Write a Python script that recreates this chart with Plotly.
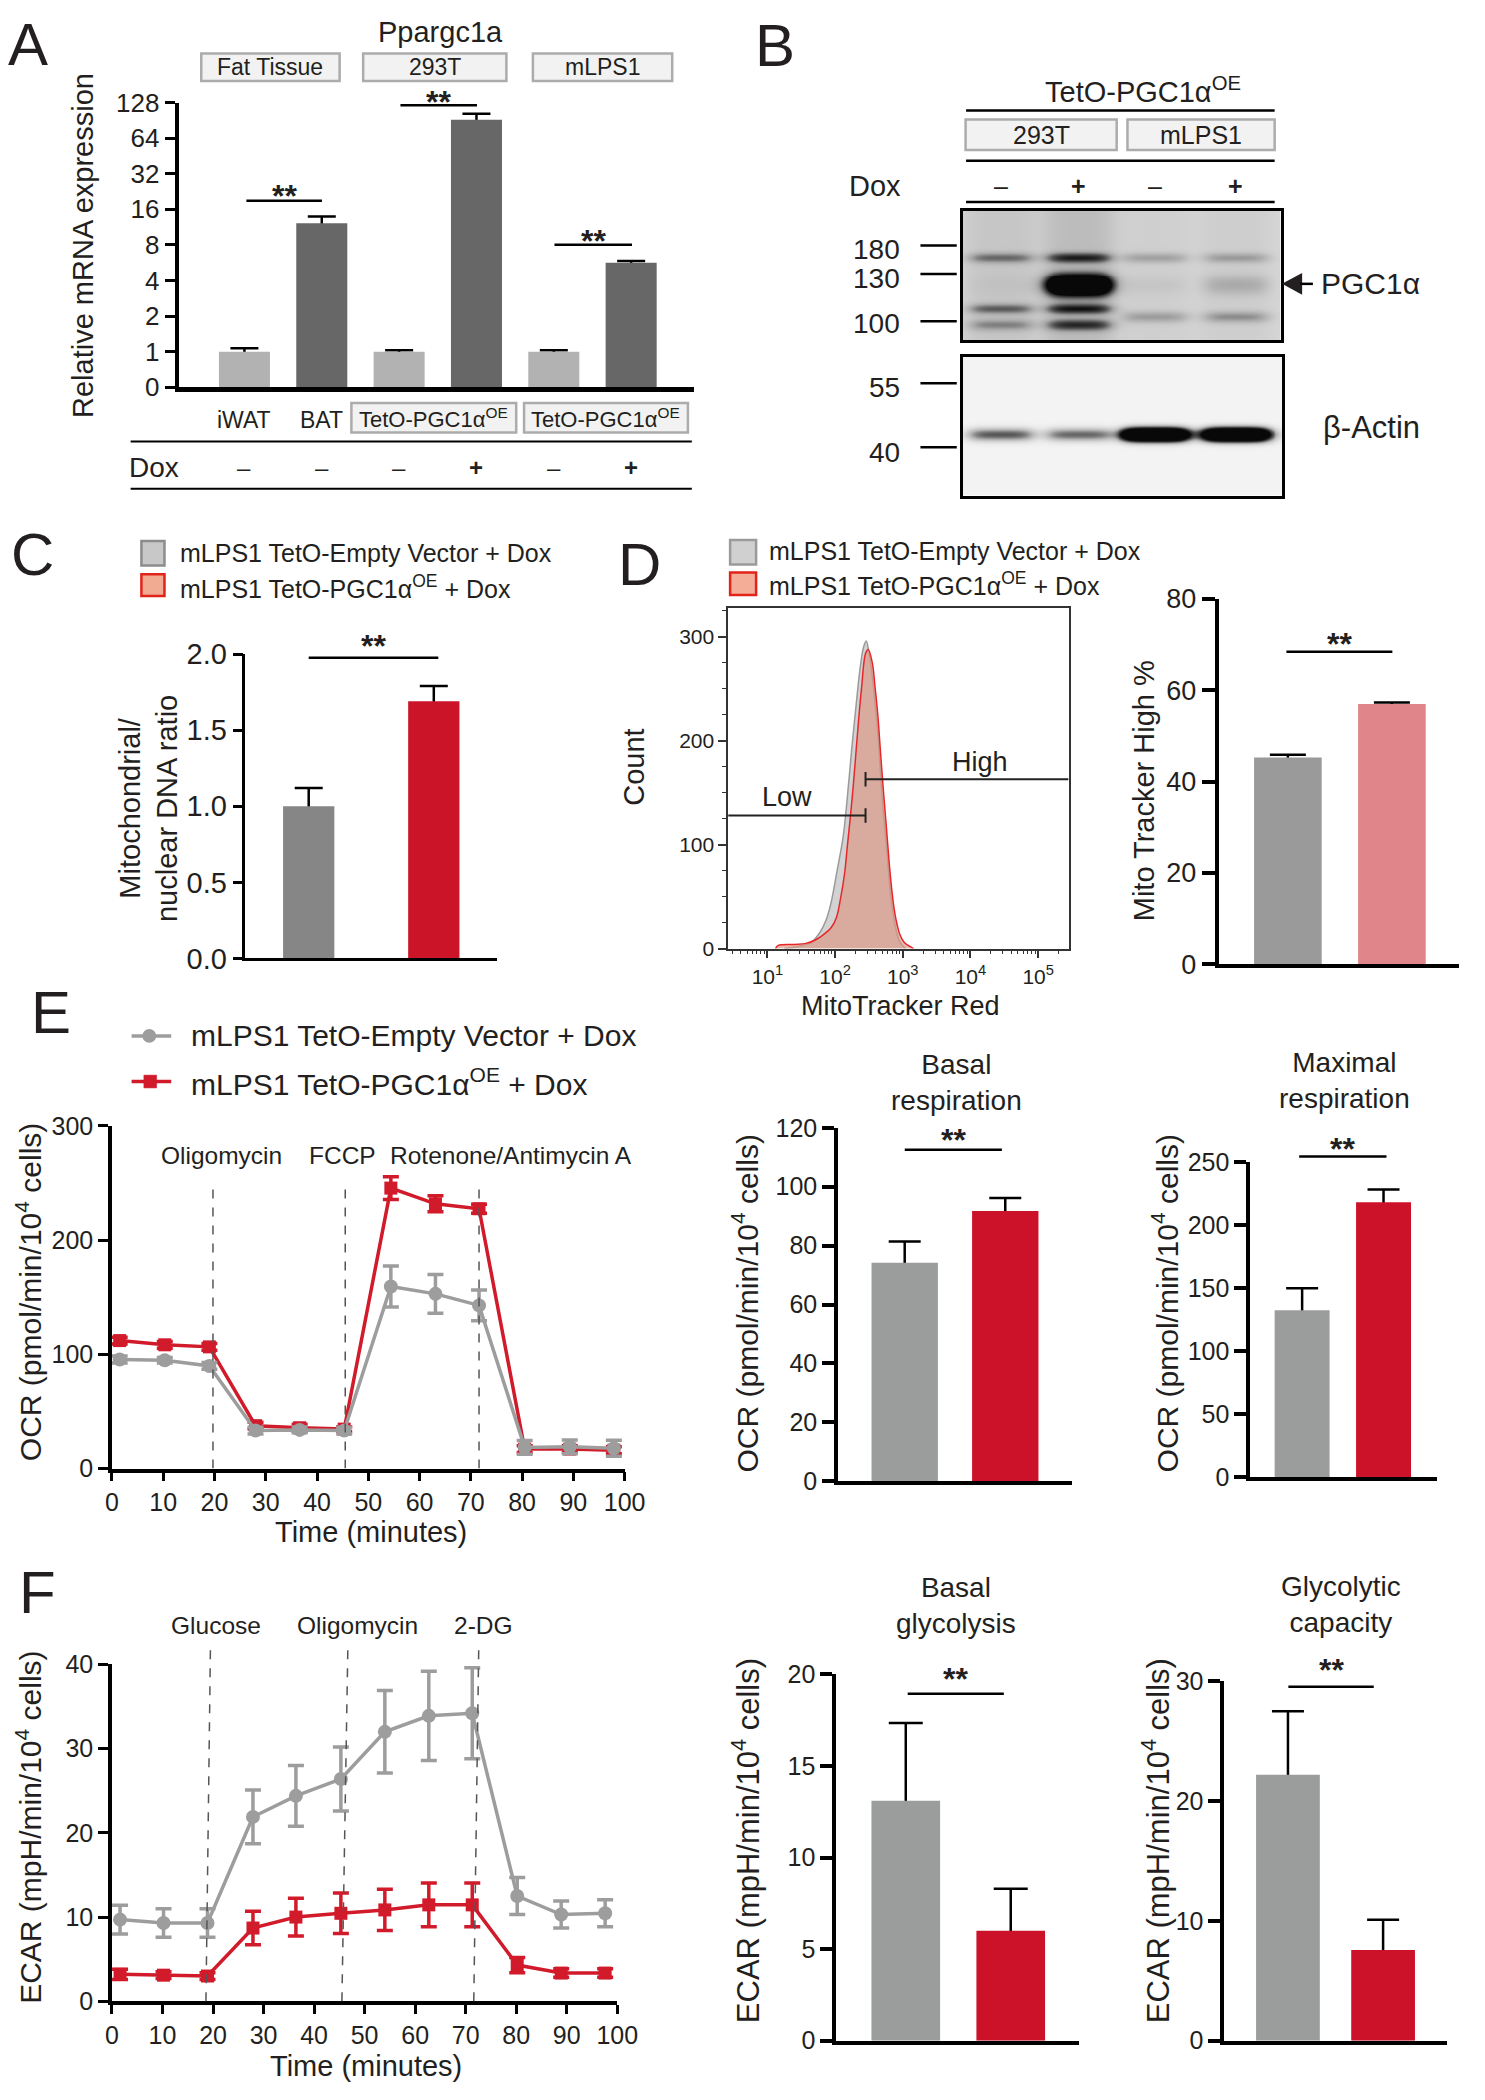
import numpy as np
import plotly.graph_objects as go

W, H = 1485, 2100
FONT = "Arial, Liberation Sans, Helvetica, sans-serif"
NARROW = "Liberation Sans Narrow, Arial Narrow, Arial, Liberation Sans, sans-serif"
INK = "#231f20"

# ============================ DATA ============================
# Panel A - Ppargc1a relative mRNA expression
a_categories = ["iWAT", "BAT", "293T -Dox", "293T +Dox", "mLPS1 -Dox", "mLPS1 +Dox"]
a_mrna = [1.0, 12.2, 1.0, 91.7, 1.0, 5.66]
a_mrna_err_top = [1.07, 13.9, 1.03, 103.0, 1.03, 5.85]
a_tickvals = [0.5, 1, 2, 4, 8, 16, 32, 64, 128]
a_ticktext = ["0", "1", "2", "4", "8", "16", "32", "64", "128"]
a_dox = ["–", "–", "–", "+", "–", "+"]
a_groups = ["Fat Tissue", "293T", "mLPS1"]

# Panel B - western blot (band intensities per lane)
b_cells = ["293T", "mLPS1"]
b_dox = ["–", "+", "–", "+"]
b_markers_top = ["180", "130", "100"]
b_markers_bottom = ["55", "40"]
b_band_180 = [0.45, 0.75, 0.28, 0.30]
b_band_pgc1a = [0.03, 2.5, 0.06, 0.22]
b_band_110 = [0.50, 0.80, 0.0, 0.0]
b_band_100 = [0.35, 0.70, 0.0, 0.0]
b_band_105 = [0.0, 0.0, 0.30, 0.35]
b_lane_smear = [0.10, 0.16, 0.04, 0.05]
b_band_actin = [0.60, 0.55, 3.0, 3.0]

# Legend groups
groups = ["mLPS1 TetO-Empty Vector + Dox", "mLPS1 TetO-PGC1α<sup>OE</sup> + Dox"]

# Panel C - mito/nuclear DNA ratio
c_mtdna = [1.0, 1.69]
c_mtdna_sem = [0.12, 0.10]

# Panel D - MitoTracker histogram (log10 intensity, count)
d_log_empty = [1.25, 1.45, 1.65, 1.78, 1.87, 1.94, 2.03, 2.12, 2.18, 2.25, 2.31, 2.37, 2.42,
               2.46, 2.50, 2.55, 2.60, 2.63, 2.67, 2.71, 2.76, 2.80, 2.84, 2.88, 2.92, 2.96, 3.04]
d_count_empty = [0, 2, 6, 16, 28, 44, 75, 108, 145, 195, 234, 270, 290,
                 296, 285, 262, 230, 209, 170, 133, 98, 66, 42, 25, 13, 6, 0]
d_log_pgc = [1.12, 1.16, 1.40, 1.57, 1.70, 1.82, 1.94, 2.02, 2.08, 2.14, 2.18, 2.22, 2.27, 2.31,
             2.35, 2.39, 2.45, 2.49, 2.55, 2.59, 2.63, 2.67, 2.71, 2.76, 2.80, 2.84, 2.88, 2.92,
             2.96, 3.02, 3.08, 3.16]
d_count_pgc = [0, 3, 4, 5, 8, 13, 20, 30, 48, 72, 98, 123, 158, 190,
               222, 250, 284, 288, 275, 252, 226, 190, 155, 115, 82, 55, 35, 22,
               13, 6, 3, 0]
d_gate_log = 2.45
d_high_pct = [45.3, 57.0]
d_high_pct_sem = [0.6, 0.35]

# Panel E - OCR
e_time = [1.5, 10.3, 19.0, 28.0, 36.6, 45.3, 54.4, 63.1, 71.6, 80.5, 89.3, 97.9]
e_ocr_empty = [95.4, 94.8, 89.8, 33.2, 33.8, 33.2, 159.4, 152.9, 142.8, 18.5, 19.0, 17.8]
e_ocr_empty_sem = [3, 2.5, 3, 3, 2.5, 3, 18, 17, 13.5, 6, 6, 7]
e_ocr_pgc = [112.0, 108.3, 106.5, 37.5, 35.7, 34.5, 245.5, 231.7, 227.4, 17.0, 17.0, 16.0]
e_ocr_pgc_sem = [3, 3, 3, 3, 3, 2, 10, 7, 4, 3, 3, 3]
e_injections = ["Oligomycin", "FCCP", "Rotenone/Antimycin A"]
e_injection_time = [19.7, 45.5, 71.6]
e_basal_resp = [74.2, 91.8]
e_basal_resp_sem = [7.2, 4.4]
e_max_resp = [132.4, 218.0]
e_max_resp_sem = [17.5, 10.0]

# Panel F - ECAR
f_time = [1.6, 10.2, 18.9, 27.9, 36.4, 45.3, 54.0, 62.7, 71.3, 80.2, 88.9, 97.6]
f_ecar_empty = [9.7, 9.3, 9.3, 21.9, 24.4, 26.4, 32.0, 33.9, 34.2, 12.5, 10.3, 10.45]
f_ecar_empty_sem = [1.7, 1.7, 1.7, 3.2, 3.6, 3.8, 4.9, 5.3, 5.4, 2.2, 1.6, 1.6]
f_ecar_pgc = [3.2, 3.1, 3.0, 8.7, 10.0, 10.45, 10.85, 11.45, 11.45, 4.3, 3.35, 3.35]
f_ecar_pgc_sem = [0.6, 0.4, 0.4, 2.0, 2.25, 2.4, 2.45, 2.6, 2.6, 0.9, 0.5, 0.5]
f_injections = ["Glucose", "Oligomycin", "2-DG"]
f_injection_time_bottom = [18.6, 45.5, 71.6]
f_injection_time_top = [19.5, 46.7, 72.6]
f_basal_glyc = [13.1, 6.0]
f_basal_glyc_sem = [4.25, 2.3]
f_glyc_cap = [22.2, 7.56]
f_glyc_cap_sem = [5.3, 2.54]

# ============================ STYLE ============================
GRAY_LINE = "#9d9d9d"
RED_LINE = "#d11a2a"
GRAY_BAR = "#9b9d9c"
RED_BAR = "#cc1229"

fig = go.Figure()
axes_layout = {}
annotations = []
shapes = []


def axes(n, x0, x1, y0, y1, xkw, ykw):
    s = "" if n == 1 else str(n)
    axes_layout["xaxis" + s] = dict(domain=[x0 / W, x1 / W], anchor="y" + s, **xkw)
    axes_layout["yaxis" + s] = dict(domain=[1 - y1 / H, 1 - y0 / H], anchor="x" + s, **ykw)
    return "x" + s, "y" + s


def text(s, x, y, size, anchor="center", angle=0, family=FONT, color=INK, xref=None):
    annotations.append(dict(
        text=s, x=(x / W if xref is None else x), y=1 - y / H,
        xref="paper" if xref is None else xref, yref="paper",
        xanchor=anchor, yanchor="middle", showarrow=False, textangle=angle,
        font=dict(family=family, size=size, color=color)))


def hline(x0, x1, y, width=2.5, color="black", dash=None):
    shapes.append(dict(type="line", xref="paper", yref="paper", x0=x0 / W, x1=x1 / W,
                       y0=1 - y / H, y1=1 - y / H, line=dict(color=color, width=width, dash=dash)))


def rect(x0, y0, x1, y1, fill, line, lw=2):
    shapes.append(dict(type="rect", xref="paper", yref="paper", x0=x0 / W, x1=x1 / W,
                       y0=1 - y1 / H, y1=1 - y0 / H, fillcolor=fill, line=dict(color=line, width=lw)))


def xbar(rng, lw=3):
    return dict(range=rng, showline=True, linewidth=lw, linecolor="black", ticks="",
                showticklabels=False, showgrid=False, zeroline=False)


def ybar(rng, tickvals, size, lw=3, ticklen=12, fmt=None):
    d = dict(range=rng, tickvals=tickvals, showline=True, linewidth=lw, linecolor="black",
             ticks="outside", ticklen=ticklen, tickwidth=lw, tickcolor="black",
             showgrid=False, zeroline=False, tickfont=dict(family=NARROW, size=size, color=INK))
    if fmt:
        d["tickformat"] = fmt
    return d


def bars(xa, ya, values, sem, colors, width, capw, thick=2.5):
    xs = list(range(len(values)))
    fig.add_trace(go.Bar(x=xs, y=values, width=width, xaxis=xa, yaxis=ya,
                         marker=dict(color="rgba(0,0,0,0)", line=dict(width=0)),
                         error_y=dict(type="data", symmetric=False, array=sem,
                                      arrayminus=[v * 0.3 for v in values],
                                      color="black", thickness=thick, width=capw),
                         hoverinfo="skip"))
    fig.add_trace(go.Bar(x=xs, y=values, width=width, xaxis=xa, yaxis=ya,
                         marker=dict(color=colors, line=dict(width=0))))


def stars(x0, x1, yline, ystar):
    hline(x0, x1, yline, width=2.5)
    text("<b>**</b>", (x0 + x1) / 2, ystar + 8, 32)


# ============================ PANEL A ============================
xa, ya = axes(1, 175, 700, 88, 377,
              dict(range=[-0.85, 5.81], showline=True, linewidth=5, linecolor="black", ticks="",
                   showticklabels=False, showgrid=False, zeroline=False),
              dict(type="log", range=[np.log10(0.5), np.log10(128)], tickvals=a_tickvals,
                   ticktext=a_ticktext, showline=True, linewidth=4, linecolor="black",
                   ticks="outside", ticklen=10, tickwidth=3, tickcolor="black",
                   showgrid=False, zeroline=False,
                   tickfont=dict(family=NARROW, size=26, color=INK)))
a_colors = ["#b2b2b2" if d == "–" else "#676767" for d in a_dox]
a_colors[1] = "#676767"
a_err = [t - v for t, v in zip(a_mrna_err_top, a_mrna)]
bars(xa, ya, a_mrna, a_err, a_colors, 0.66, 14)

text("Ppargc1a", 442, 16, 29)
for name, (x0, x1) in zip(a_groups, [(198, 339), (363, 509), (536, 678)]):
    rect(x0, 38, x1, 66, "#f2f2f2", "#acacac", 2.5)
    text(name, (x0 + x1) / 2, 52, 23)
stars(244, 321, 187.7, 175)
stars(401, 479, 90.7, 79.3)
stars(558, 637, 232.3, 220)
text("iWAT", 0, 410, 23, xref="x")
text("BAT", 1, 410, 23, xref="x")
for x0, x1 in [(351, 519), (527, 694)]:
    rect(x0, 393, x1, 423, "#f2f2f2", "#acacac", 2.5)
    text("TetO-PGC1α<sup>OE</sup>", (x0 + x1) / 2, 408, 22)
hline(126, 698, 432, 2)
hline(126, 698, 480, 2)
text("Dox", 150, 458, 28)
for i, s in enumerate(a_dox):
    text("<b>" + s + "</b>" if s == "+" else s, i, 458, 24, xref="x")
text("Relative mRNA expression", 78, 233, 29, angle=-90)

# ============================ PANEL B ============================
b_lane_x = [39, 118, 196, 278]


def blot(width, height, rows, lane_x, halfw=30.0, soft=5.0, smear=None):
    X, Y = np.meshgrid(np.arange(width) + 0.5, np.arange(height) + 0.5)
    z = np.zeros((height, width))
    for yc, sig, intens in rows:
        for xc, a in zip(lane_x, intens):
            if a <= 0:
                continue
            xprof = 1.0 / (1.0 + np.exp((np.abs(X - xc) - halfw) / soft))
            yprof = np.exp(-((Y - yc) / sig) ** 2)
            z += a * xprof * yprof
    if smear is not None:
        for xc, a in zip(lane_x, smear):
            z += a / (1.0 + np.exp((np.abs(X - xc) - halfw - 4) / 6.0))
    return np.clip(z, 0, 1)


top_rows = [(47, 5.0, b_band_180), (75, 10.0, b_band_pgc1a), (99, 5.0, b_band_110),
            (115, 5.5, b_band_100), (107, 5.5, b_band_105)]
bot_rows = [(79, 6.0, b_band_actin)]
z_top = blot(324, 131, top_rows, b_lane_x, smear=b_lane_smear)
z_bot = blot(326, 141, bot_rows, b_lane_x, halfw=31)

blot_ax = dict(showline=True, mirror=True, linewidth=2.5, linecolor="black", ticks="",
               showticklabels=False, showgrid=False, zeroline=False)
xb1, yb1 = axes(2, 974, 1298, 198, 329, dict(range=[0, 324], **blot_ax), dict(range=[131, 0], **blot_ax))
xb2, yb2 = axes(3, 974, 1300, 346, 487, dict(range=[0, 326], **blot_ax), dict(range=[141, 0], **blot_ax))
fig.add_trace(go.Heatmap(z=z_top, x=np.arange(324) + 0.5, y=np.arange(131) + 0.5, zmin=0, zmax=1,
                         colorscale=[[0, "#d6d6d6"], [0.3, "#a5a5a5"], [0.6, "#585858"], [1, "#080808"]],
                         showscale=False, xaxis=xb1, yaxis=yb1, zsmooth="best"))
fig.add_trace(go.Heatmap(z=z_bot, x=np.arange(326) + 0.5, y=np.arange(141) + 0.5, zmin=0, zmax=1,
                         colorscale=[[0, "#f3f3f3"], [0.3, "#b5b5b5"], [0.6, "#555555"], [1, "#080808"]],
                         showscale=False, xaxis=xb2, yaxis=yb2, zsmooth="best"))

text("TetO-PGC1α<sup>OE</sup>", 1158, 75, 29)
hline(977.5, 1292, 96, 2.5)
for name, (x0, x1) in zip(b_cells, [(977, 1131), (1142, 1292)]):
    rect(x0, 105, x1, 136, "#f2f2f2", "#acacac", 2.5)
    text(name, (x0 + x1) / 2, 120.5, 25)
hline(977.5, 1292, 147, 2.5)
text("Dox", 885, 173, 29)
for xc, s in zip(b_lane_x, b_dox):
    text("<b>" + s + "</b>" if s == "+" else s, 974 + xc, 173, 25)
hline(977.5, 1292, 189, 2.5)
for lab, ly, ty in zip(b_markers_top, [233, 262, 310], [237, 267, 312]):
    hline(931, 968, ly, 2.5)
    text(lab, 912, ty, 28, anchor="right")
for lab, ly, ty in zip(b_markers_bottom, [373, 438], [377, 443]):
    hline(931, 968, ly, 2.5)
    text(lab, 912, ty, 28, anchor="right")
shapes.append(dict(type="path", xref="paper", yref="paper",
                   path="M {} {} L {} {} L {} {} Z".format(1299.5 / W, 1 - 272 / H, 1320 / W, 1 - 261 / H,
                                                           1320 / W, 1 - 283 / H),
                   fillcolor="#231f20", line=dict(width=0)))
hline(1318, 1331, 272, 2.5)
text("PGC1α", 1337.5, 272, 30, anchor="left")
text("β-Actin", 1339.5, 418, 31, anchor="left")

# ============================ PANEL C ============================
xc_, yc_ = axes(4, 243, 499, 648, 957, xbar([-0.506, 1.502], 3),
                ybar([0, 2.0], [0, 0.5, 1.0, 1.5, 2.0], 29, lw=2.5, ticklen=10, fmt=".1f"))
bars(xc_, yc_, c_mtdna, c_mtdna_sem, ["#868686", "#cb1428"], 0.41, 14)
rect(137, 533, 160.5, 558, "#c8c8c8", "#8c8c8c", 2.5)
rect(137, 567, 160.5, 589, "#f2ab93", "#e2231a", 2.5)
text(groups[0], 174, 545, 25, anchor="left")
text(groups[1], 174, 580, 25, anchor="left")
text("Mitochondrial/<br>nuclear DNA ratio", 144, 805, 29, angle=-90)
stars(307.5, 439.6, 651.7, 631.7)

# ============================ PANEL D ============================
hist_ax = dict(showline=True, mirror=True, linewidth=1.5, linecolor="#333333", showgrid=False,
               zeroline=False, ticks="outside", tickcolor="#333333", tickwidth=1.5, ticklen=8,
               tickfont=dict(family=NARROW, size=21, color=INK))
minor_x = [k * 10 ** n for n in range(0, 6) for k in range(2, 10)]
xd, yd = axes(5, 735, 1082, 601, 947,
              dict(type="log", range=[0.42, 5.45], tickvals=[10, 100, 1e3, 1e4, 1e5],
                   ticktext=["10<sup>1</sup>", "10<sup>2</sup>", "10<sup>3</sup>", "10<sup>4</sup>",
                             "10<sup>5</sup>"],
                   minor=dict(tickvals=minor_x, ticks="outside", ticklen=4, tickwidth=1.2,
                              tickcolor="#333333"), **hist_ax),
              dict(range=[0, 328], tickvals=[0, 100, 200, 300],
                   minor=dict(tickvals=[25, 50, 75, 125, 150, 175, 225, 250, 275, 325], ticks="outside",
                              ticklen=4, tickwidth=1.2, tickcolor="#333333"), **hist_ax))
fig.add_trace(go.Scatter(x=10 ** np.array(d_log_empty), y=d_count_empty, mode="lines",
                         line=dict(color="#9a9a9a", width=1.5, shape="spline"), fill="tozeroy",
                         fillcolor="#d2d2d2", xaxis=xd, yaxis=yd))
fig.add_trace(go.Scatter(x=10 ** np.array(d_log_pgc), y=d_count_pgc, mode="lines",
                         line=dict(color="#e8262a", width=1.5, shape="spline"), fill="tozeroy",
                         fillcolor="rgba(220,150,130,0.65)", xaxis=xd, yaxis=yd))
g = 10 ** d_gate_log
fig.add_trace(go.Scatter(x=[10 ** 0.42, g, None, g, g], y=[128, 128, None, 121, 135], mode="lines",
                         line=dict(color="#222222", width=2), xaxis=xd, yaxis=yd, cliponaxis=False))
fig.add_trace(go.Scatter(x=[g, 10 ** 5.45, None, g, g], y=[163, 163, None, 156, 170], mode="lines",
                         line=dict(color="#222222", width=2), xaxis=xd, yaxis=yd, cliponaxis=False))
text("Low", 795, 793, 27)
text("High", 992, 758, 27)
text("Count", 639.5, 763, 29, angle=-90)
text("MitoTracker Red", 911, 1005, 27)
rect(737, 532, 763.5, 557, "#d0d0d0", "#9a9a9a", 2.5)
rect(737, 565, 763.5, 588, "#f4ad96", "#e2231a", 2.5)
text(groups[0], 775, 543, 25, anchor="left")
text(groups[1], 775, 577, 25, anchor="left")

xd2, yd2 = axes(6, 1235, 1480, 592, 963, xbar([-0.665, 1.646], 4),
                ybar([0, 80], [0, 20, 40, 60, 80], 27, lw=4, ticklen=13))
bars(xd2, yd2, d_high_pct, d_high_pct_sem, ["#9a9a9a", "#e0858a"], 0.65, 18)
text("Mito Tracker High %", 1158.4, 786.7, 29, angle=-90)
stars(1304, 1412, 645.7, 630)

# ============================ PANEL E ============================
line_x = dict(range=[0, 100], tickvals=list(range(0, 101, 10)), showline=True, linewidth=3.5,
              linecolor="black", ticks="outside", ticklen=9, tickwidth=3, tickcolor="black",
              showgrid=False, zeroline=False, tickfont=dict(family=NARROW, size=25, color=INK))
xe, ye = axes(7, 107, 629.5, 1127, 1475, line_x,
              dict(range=[0, 300], tickvals=[0, 100, 200, 300], showline=True, linewidth=3.5,
                   linecolor="black", ticks="outside", ticklen=10, tickwidth=3, tickcolor="black",
                   showgrid=False, zeroline=False, tickfont=dict(family=NARROW, size=25, color=INK)))
fig.add_trace(go.Scatter(x=e_time, y=e_ocr_pgc, mode="lines+markers", xaxis=xe, yaxis=ye,
                         line=dict(color=RED_LINE, width=3.5),
                         marker=dict(symbol="square", size=13, color=RED_LINE),
                         error_y=dict(type="data", array=e_ocr_pgc_sem, color=RED_LINE, thickness=3.5, width=8),
                         cliponaxis=False))
fig.add_trace(go.Scatter(x=e_time, y=e_ocr_empty, mode="lines+markers", xaxis=xe, yaxis=ye,
                         line=dict(color=GRAY_LINE, width=3.5),
                         marker=dict(symbol="circle", size=14, color=GRAY_LINE),
                         error_y=dict(type="data", array=e_ocr_empty_sem, color=GRAY_LINE, thickness=3.5, width=8),
                         cliponaxis=False))
for t in e_injection_time:
    shapes.append(dict(type="line", xref=xe, yref=ye, x0=t, x1=t, y0=0, y1=249,
                       line=dict(color="#555555", width=1.5, dash="dash")))
for name, xpx in zip(e_injections, [218.8, 342, 514]):
    text(name, xpx, 1157, 24.5)
text("Time (minutes)", 370.5, 1539, 29)
text("OCR (pmol/min/10<sup>4</sup> cells)", 22.3, 1296, 30, angle=-90)
# legend
hline(127, 167.4, 1035.7, 3.5, GRAY_LINE)
shapes.append(dict(type="circle", xref="paper", yref="paper", x0=138 / W, x1=152 / W,
                   y0=1 - 1042.7 / H, y1=1 - 1028.7 / H, fillcolor=GRAY_LINE, line=dict(width=0)))
hline(127, 167.4, 1082, 3.5, RED_LINE)
rect(139.5, 1075.5, 152.5, 1088.5, RED_LINE, RED_LINE, 0.5)
text(groups[0], 185.3, 1035.7, 30, anchor="left")
text(groups[1], 185.3, 1082, 30, anchor="left")

xe2, ye2 = axes(8, 847, 1085, 1129, 1488, xbar([-0.663, 1.659], 3.5),
                ybar([0, 120], [0, 20, 40, 60, 80, 100, 120], 25, lw=3.5, ticklen=12))
bars(xe2, ye2, e_basal_resp, e_basal_resp_sem, [GRAY_BAR, RED_BAR], 0.66, 16)
text("Basal<br>respiration", 968, 1083, 28)
text("OCR (pmol/min/10<sup>4</sup> cells)", 752.6, 1307, 30, angle=-90)
stars(915, 1014, 1151.4, 1133.9)

xe3, ye3 = axes(9, 1267, 1457, 1163.5, 1484, xbar([-0.639, 1.651], 3.5),
                ybar([0, 250], [0, 50, 100, 150, 200, 250], 25, lw=3.5, ticklen=12))
bars(xe3, ye3, e_max_resp, e_max_resp_sem, [GRAY_BAR, RED_BAR], 0.675, 16)
text("Maximal<br>respiration", 1363, 1081, 28)
text("OCR (pmol/min/10<sup>4</sup> cells)", 1180.6, 1307, 30, angle=-90)
stars(1317, 1406, 1158.2, 1142.8)

# ============================ PANEL F ============================
xf, yf = axes(10, 107, 622, 1674, 2016, line_x,
              dict(range=[0, 40], tickvals=[0, 10, 20, 30, 40], showline=True, linewidth=3.5,
                   linecolor="black", ticks="outside", ticklen=10, tickwidth=3, tickcolor="black",
                   showgrid=False, zeroline=False, tickfont=dict(family=NARROW, size=25, color=INK)))
fig.add_trace(go.Scatter(x=f_time, y=f_ecar_empty, mode="lines+markers", xaxis=xf, yaxis=yf,
                         line=dict(color=GRAY_LINE, width=3.5),
                         marker=dict(symbol="circle", size=14, color=GRAY_LINE),
                         error_y=dict(type="data", array=f_ecar_empty_sem, color=GRAY_LINE, thickness=3.5, width=8),
                         cliponaxis=False))
fig.add_trace(go.Scatter(x=f_time, y=f_ecar_pgc, mode="lines+markers", xaxis=xf, yaxis=yf,
                         line=dict(color=RED_LINE, width=3.5),
                         marker=dict(symbol="square", size=13, color=RED_LINE),
                         error_y=dict(type="data", array=f_ecar_pgc_sem, color=RED_LINE, thickness=3.5, width=8),
                         cliponaxis=False))
for tb, tt in zip(f_injection_time_bottom, f_injection_time_top):
    shapes.append(dict(type="line", xref=xf, yref="paper", x0=tb, x1=tt, y0=1 - 2016 / H, y1=1 - 1651 / H,
                       line=dict(color="#555555", width=1.5, dash="dash")))
for name, xpx in zip(f_injections, [213, 357, 485.4]):
    text(name, xpx, 1634, 24.5)
text("Time (minutes)", 366, 2082, 29)
text("ECAR (mpH/min/10<sup>4</sup> cells)", 22.3, 1839, 30, angle=-90)

xf2, yf2 = axes(11, 845, 1093, 1684, 2056, xbar([-0.664, 1.654], 3.5),
                ybar([0, 20], [0, 5, 10, 15, 20], 25, lw=3.5, ticklen=12))
bars(xf2, yf2, f_basal_glyc, f_basal_glyc_sem, [GRAY_BAR, RED_BAR], 0.654, 17)
text("Basal<br>glycolysis", 967, 1614, 28)
text("ECAR (mpH/min/10<sup>4</sup> cells)", 752.6, 1853, 31, angle=-90)
stars(918, 1016, 1703.6, 1680.5)

xf3, yf3 = axes(12, 1240.6, 1468, 1691, 2056, xbar([-0.67, 1.675], 3.5),
                ybar([0, 30], [0, 10, 20, 30], 25, lw=3.5, ticklen=12))
bars(xf3, yf3, f_glyc_cap, f_glyc_cap_sem, [GRAY_BAR, RED_BAR], 0.67, 16)
text("Glycolytic<br>capacity", 1360, 1613, 28)
text("ECAR (mpH/min/10<sup>4</sup> cells)", 1170.6, 1853, 31, angle=-90)
stars(1306, 1393, 1696.7, 1672)

# ============================ PANEL LETTERS ============================
for letter, x, y in [("A", 21, 29), ("B", 783, 30), ("C", 26, 547), ("D", 645, 557),
                     ("E", 45, 1012), ("F", 31, 1601)]:
    text(letter, x, y, 60, color="#231f20")

fig.update_layout(width=W, height=H, margin=dict(l=0, r=0, t=0, b=0), paper_bgcolor="white",
                  plot_bgcolor="rgba(0,0,0,0)", showlegend=False, barmode="overlay",
                  annotations=annotations, shapes=shapes, font=dict(family=FONT, color=INK),
                  **axes_layout)
fig.write_html("out.html", config={"displayModeBar": False},
               post_script="document.body.style.margin='0px';document.body.style.padding='0px';")
